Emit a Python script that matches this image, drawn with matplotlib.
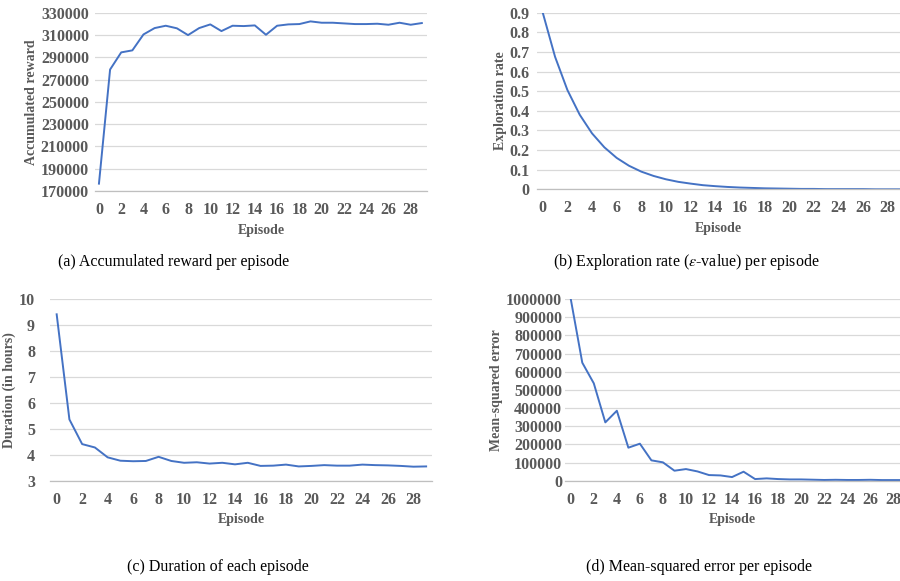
import matplotlib
matplotlib.use("Agg")
import matplotlib.pyplot as plt
from matplotlib.ticker import FuncFormatter

episodes = list(range(30))

reward = [176600, 279000, 294400, 296200, 310500, 316200, 318300, 316000, 309900, 316200,
          319500, 313500, 318300, 318000, 318600, 310200, 318300, 319500, 319800, 322200,
          321000, 321000, 320400, 319800, 319800, 320100, 319200, 321000, 319200, 320700]

epsilon = [0.9, 0.675, 0.506, 0.38, 0.285, 0.214, 0.16, 0.12, 0.09, 0.068,
           0.051, 0.038, 0.029, 0.021, 0.016, 0.012, 0.009, 0.007, 0.005, 0.004,
           0.003, 0.002, 0.002, 0.001, 0.001, 0.001, 0.001, 0.0, 0.0, 0.0]

duration = [9.41, 5.36, 4.41, 4.28, 3.90, 3.77, 3.75, 3.76, 3.92, 3.76,
            3.69, 3.71, 3.66, 3.69, 3.63, 3.69, 3.57, 3.58, 3.62, 3.55,
            3.57, 3.60, 3.58, 3.58, 3.62, 3.60, 3.59, 3.57, 3.54, 3.55]

mse = [1000000, 649500, 535800, 321000, 385000, 181700, 203700, 112000, 101000, 55000,
       64000, 51000, 31000, 29000, 20000, 49500, 9000, 12800, 9000, 7000,
       7000, 5500, 4000, 5000, 4000, 4000, 5000, 3500, 3500, 3500]

captions = ["(a) Accumulated reward per episode",
            "(b) Exploration rate ($\\epsilon$-value) per episode",
            "(c) Duration of each episode",
            "(d) Mean-squared error per episode"]

ylabels = ["Accumulated reward", "Exploration rate", "Duration (in hours)", "Mean-squared error"]

xticks = list(range(0, 30, 2))

plt.rcParams['font.family'] = ['Liberation Serif', 'DejaVu Serif']
plt.rcParams['mathtext.fontset'] = 'stix'

W, H = 900, 581
fig = plt.figure(figsize=(9, 5.81), dpi=100)

GRAY = '#595959'
BLUE = '#4472C4'


def px_axes(left, top, right, bottom):
    return fig.add_axes([left / W, 1 - bottom / H, (right - left) / W, (bottom - top) / H])


def style(ax, ydata, ylim, yticks, xlim, ylabel, fmt, ypad):
    ax.plot(episodes, ydata, color=BLUE, lw=1.4, solid_joinstyle='round')
    ax.set_xlim(*xlim)
    ax.set_ylim(*ylim)
    ax.set_yticks(yticks)
    ax.set_xticks(xticks)
    ax.yaxis.set_major_formatter(FuncFormatter(fmt))
    ax.grid(axis='y', color='#D9D9D9', lw=0.9)
    ax.set_axisbelow(True)
    for s in ['top', 'right', 'left']:
        ax.spines[s].set_visible(False)
    ax.spines['bottom'].set_color('#BFBFBF')
    ax.spines['bottom'].set_linewidth(0.9)
    ax.tick_params(length=0, labelsize=11.5, labelcolor=GRAY, pad=8)
    ax.tick_params(axis='y', pad=ypad)
    for t in ax.get_xticklabels() + ax.get_yticklabels():
        t.set_fontweight('bold')
    ax.set_xlabel("Episode", fontsize=10, fontweight='bold', color=GRAY, labelpad=4)
    ax.set_ylabel(ylabel, fontsize=10, fontweight='bold', color=GRAY, labelpad=2)


ax1 = px_axes(94.5, 12.7, 427.4, 191)
style(ax1, reward, (170000, 330000), list(range(170000, 330001, 20000)), (-0.4, 29.5),
      ylabels[0], lambda v, p: f"{int(v)}", 4)

ax2 = px_axes(536.6, 12.7, 900, 189.3)
style(ax2, epsilon, (0, 0.9), [i / 10 for i in range(10)], (-0.5, 29.0),
      ylabels[1], lambda v, p: "0" if v == 0 else f"{v:.1f}", 5)

ax3 = px_axes(50.3, 299, 432.5, 480.7)
style(ax3, duration, (3, 10), list(range(3, 11)), (-0.5, 29.5),
      ylabels[2], lambda v, p: f"{int(v)}", 11)

ax4 = px_axes(565, 299, 900, 480.7)
style(ax4, mse, (0, 1000000), list(range(0, 1000001, 100000)), (-0.5, 28.58),
      ylabels[3], lambda v, p: f"{int(v)}", 2)

cap_pos = [(174, 262), (686, 262), (218, 567), (699, 567)]
for text, (cx, cy) in zip(captions, cap_pos):
    fig.text(cx / W, 1 - cy / H, text, ha='center', va='center', fontsize=11.5, color='black')

fig.savefig("out.png", dpi=100)
